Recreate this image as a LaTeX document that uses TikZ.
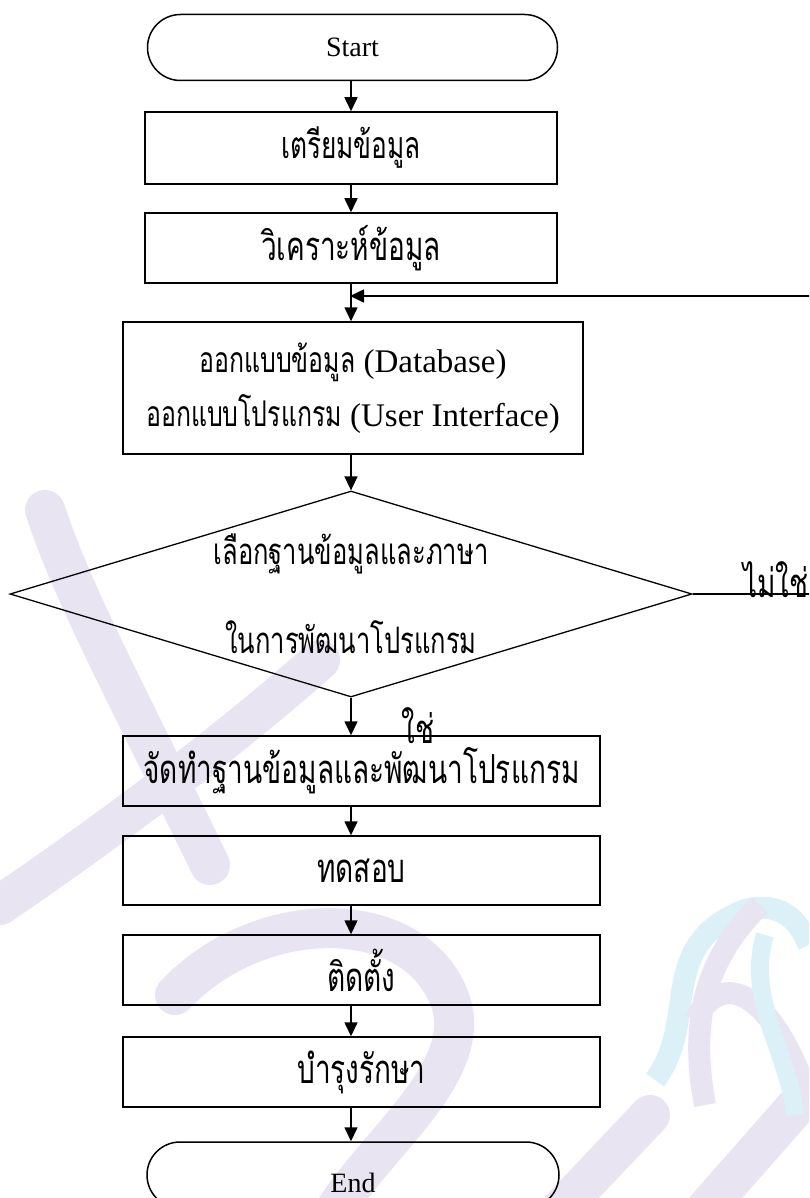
\documentclass[tikz,border=0pt]{standalone}
\usepackage{fontspec}
\setmainfont{Liberation Serif}
\newfontfamily\thf[Script=Thai,FakeStretch=0.7]{Loma}
\usetikzlibrary{shapes.geometric,arrows.meta}
\definecolor{wmP}{RGB}{233,228,242}
\definecolor{wmC}{RGB}{220,240,248}
\begin{document}
\begin{tikzpicture}[x=1pt,y=-1pt,
  every node/.style={font=\fontsize{28}{32}\selectfont},
  procbox/.style={draw, line width=1.5pt, rectangle, inner sep=0pt},
  termbox/.style={draw, line width=1.5pt, rectangle, rounded corners=33pt, inner sep=0pt, minimum width=410pt, minimum height=66pt},
  decbox/.style={draw, line width=1.3pt, diamond, inner sep=0pt, minimum width=682pt, minimum height=206pt},
  conn/.style={line width=1.6pt},
  arr/.style={line width=1.6pt, -{Triangle[length=14pt,width=13pt]}},
  wmband/.style={line width=40pt, line cap=round},
  th/.style={font=\thf\fontsize{40}{42}\selectfont},
  thsmall/.style={font=\thf\fontsize{36.5}{40}\selectfont}
]
\useasboundingbox (0,0) rectangle (809,1198);
\clip (0,0) rectangle (809,1198);
% watermark
\draw[wmband, wmP] (45,510) .. controls (75,600) and (130,700) .. (210,865);
\draw[wmband, wmP] (320,660) .. controls (230,740) and (110,830) .. (0,905);
\draw[wmband, wmP] (175,995) .. controls (260,905) and (415,905) .. (450,1000) .. controls (475,1070) and (380,1140) .. (335,1210);
\draw[wmband, wmP] (650,1115) -- (560,1210);
\draw[wmband, wmP] (815,1085) -- (705,1210);
\draw[line width=22pt, wmC] (655,1080) .. controls (700,1020) and (655,945) .. (745,910) .. controls (785,900) and (800,925) .. (809,945);
\draw[line width=22pt, wmP] (705,1105) .. controls (685,1000) and (720,945) .. (760,905);
\draw[line width=22pt, wmP] (695,1020) .. controls (725,965) and (770,1000) .. (800,1075);
\draw[line width=18pt, wmC] (765,935) .. controls (745,1000) and (790,1055) .. (795,1115);
% nodes
\node[termbox] (start) at (352.5,47.5) {Start};
\node[procbox, font=\thf\fontsize{37.5}{40}\selectfont, minimum width=412pt, minimum height=72pt] (b1) at (351,148) {เตรียมข้อมูล};
\node[procbox, th, minimum width=412pt, minimum height=70pt] (b2) at (351,248) {วิเคราะห์ข้อมูล};
\node[procbox, font=\fontsize{33}{34}\selectfont, minimum width=460pt, minimum height=132pt, align=center] (b3) at (353,388)
  {{\thf\fontsize{35.5}{36}\selectfont ออกแบบข้อมูล} (Database)\\[12pt]{\thf\fontsize{35.5}{36}\selectfont ออกแบบโปรแกรม} (User Interface)};
\node[decbox] (d) at (351,594) {};
\node[thsmall, align=center] (dtext) at (d.center) {เลือกฐานข้อมูลและภาษา\\[46pt]ในการพัฒนาโปรแกรม};
\node[procbox, th, minimum width=477pt, minimum height=70pt] (b4) at (361.5,771) {จัดทำฐานข้อมูลและพัฒนาโปรแกรม};
\node[procbox, th, minimum width=477pt, minimum height=69pt] (b5) at (361.5,870.5) {ทดสอบ};
\node[procbox, th, minimum width=477pt, minimum height=70pt] (b6) at (361.5,970) {ติดตั้ง};
\node[procbox, th, minimum width=477pt, minimum height=70pt] (b7) at (361.5,1072) {บำรุงรักษา};
\node[termbox, minimum width=412pt, text height=35pt, text depth=0pt] (end) at (353,1175) {End};
\node[th] (yes) at (418,726) {ใช่};
\node[th] (no) at (776,580) {ไม่ใช่};
\coordinate (loopR) at (815,296);
\coordinate (loopT) at (b2.south |- loopR);
\coordinate (noR) at (815,594);
% connectors
\draw[arr] (start.south -| b1.north) -- (b1.north);
\draw[arr] (b1.south) -- (b2.north);
\draw[arr] (b2.south) -- (b2.south |- b3.north);
\draw[arr, shorten >=-1pt] (loopR) -- (loopT);
\draw[arr] (b3.south -| d.north) -- (d.north);
\draw[arr] (d.south) -- (d.south |- b4.north);
\draw[arr] (b4.south -| d.south) -- (d.south |- b5.north);
\draw[arr] (b5.south -| d.south) -- (d.south |- b6.north);
\draw[arr] (b6.south -| d.south) -- (d.south |- b7.north);
\draw[arr] (b7.south -| d.south) -- (d.south |- end.north);
\draw[conn] (d.east) -- (noR);
\end{tikzpicture}
\end{document}
